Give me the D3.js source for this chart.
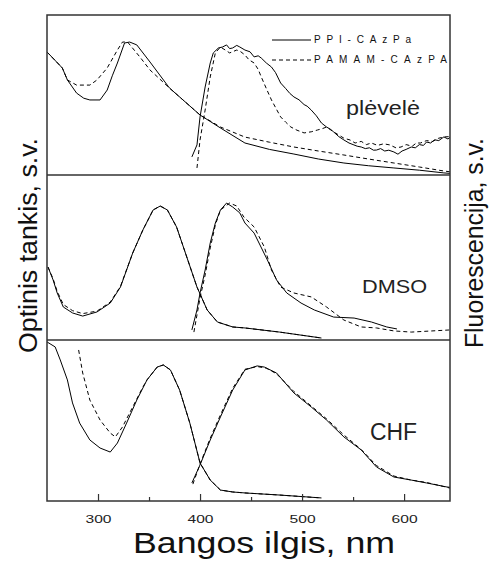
<!DOCTYPE html>
<html><head><meta charset="utf-8">
<script src="https://cdn.jsdelivr.net/npm/d3@7/dist/d3.min.js"></script>
<style>
html,body{margin:0;padding:0;background:#fff;}
svg{display:block;font-family:"Liberation Sans",Arial,sans-serif;}
</style></head>
<body>
<svg id="chart" width="489" height="564"></svg>
<script>
// ---- data (wavelength nm, arbitrary units) ----
const xTicks = [300, 400, 500, 600];
const xMinorTicks = [350, 450, 550];
const panelLabels = ["plėvelė", "DMSO", "CHF"];
const seriesNames = ["PPI-CAzPa", "PAMAM-CAzPA"];

// Panel 1: plėvelė (film)
const filmAbsPPI = [[250,0.769],[265,0.669],[270,0.594],[279,0.512],[286,0.48],[292,0.469],[302,0.469],[309,0.531],[314,0.62],[319,0.70],[326,0.825],[331,0.831],[338,0.813],[351,0.706],[370,0.544],[400,0.375],[420,0.294],[444,0.20],[468,0.16],[492,0.131],[516,0.10],[541,0.075],[565,0.058],[590,0.044],[615,0.03],[639,0.013],[645,0.01]];
const filmAbsPAMAM = [[250,0.769],[265,0.669],[270,0.594],[279,0.562],[292,0.562],[299,0.594],[309,0.669],[319,0.781],[324,0.831],[329,0.831],[341,0.738],[351,0.656],[370,0.544],[400,0.375],[420,0.30],[444,0.237],[468,0.205],[492,0.175],[516,0.15],[541,0.125],[565,0.10],[590,0.075],[615,0.05],[639,0.025],[645,0.02]];
const filmFlPPI = [[392,0.113],[397,0.188],[400,0.363],[405,0.55],[410,0.70],[413,0.763],[418,0.794],[422,0.80],[426,0.813],[429,0.79],[432,0.794],[436,0.81],[439,0.80],[444,0.781],[449,0.77],[453,0.738],[457,0.745],[460,0.731],[465,0.70],[470,0.675],[474,0.64],[479,0.575],[484,0.54],[488,0.51],[492,0.488],[497,0.47],[502,0.44],[505,0.43],[509,0.406],[514,0.37],[519,0.325],[524,0.30],[528,0.285],[531,0.269],[536,0.24],[541,0.219],[546,0.20],[550,0.19],[554,0.18],[558,0.175],[562,0.165],[566,0.17],[570,0.155],[573,0.156],[577,0.165],[581,0.15],[585,0.155],[590,0.144],[594,0.13],[598,0.15],[602,0.16],[607,0.175],[611,0.17],[615,0.19],[619,0.185],[622,0.206],[626,0.20],[630,0.22],[634,0.215],[639,0.238],[643,0.225],[645,0.235]];
const filmFlPAMAM = [[397,0.044],[400,0.219],[405,0.406],[410,0.613],[415,0.763],[420,0.80],[425,0.78],[429,0.763],[436,0.781],[440,0.77],[444,0.75],[448,0.72],[453,0.70],[457,0.66],[460,0.613],[465,0.54],[470,0.469],[475,0.41],[479,0.363],[484,0.33],[489,0.30],[495,0.28],[502,0.263],[509,0.27],[515,0.281],[520,0.29],[524,0.30],[531,0.269],[536,0.25],[541,0.23],[547,0.219],[552,0.20],[558,0.21],[563,0.19],[568,0.20],[574,0.185],[580,0.195],[586,0.188],[592,0.17],[597,0.175],[602,0.19],[608,0.18],[612,0.20],[616,0.20],[622,0.215],[628,0.21],[634,0.23],[639,0.238],[645,0.24]];

// Panel 2: DMSO
const dmsoAbsPPI = [[251,0.442],[256,0.364],[260,0.285],[266,0.20],[275,0.164],[285,0.145],[299,0.17],[312,0.224],[322,0.321],[334,0.527],[344,0.667],[354,0.788],[361,0.812],[368,0.788],[377,0.685],[387,0.503],[397,0.321],[407,0.182],[417,0.109],[432,0.079],[444,0.073],[478,0.048],[519,0.012]];
const dmsoAbsPAMAM = [[251,0.442],[256,0.37],[260,0.295],[266,0.215],[275,0.178],[285,0.16],[299,0.175],[312,0.23],[322,0.325],[334,0.527],[344,0.667],[354,0.788],[361,0.812],[368,0.788],[377,0.685],[387,0.503],[397,0.321],[407,0.182],[417,0.109],[432,0.079],[444,0.073],[478,0.048],[519,0.012]];
const dmsoFlPPI = [[392,0.061],[397,0.182],[400,0.285],[405,0.424],[410,0.588],[415,0.709],[420,0.788],[426,0.83],[432,0.806],[439,0.77],[444,0.709],[453,0.648],[466,0.485],[475,0.364],[485,0.285],[499,0.224],[512,0.182],[531,0.139],[551,0.133],[568,0.109],[583,0.079],[593,0.067]];
const dmsoFlPAMAM = [[394,0.048],[397,0.152],[400,0.255],[405,0.394],[410,0.558],[415,0.697],[420,0.788],[429,0.83],[436,0.812],[443,0.745],[453,0.685],[463,0.564],[470,0.424],[479,0.321],[492,0.285],[509,0.261],[524,0.20],[541,0.121],[558,0.079],[573,0.073],[590,0.055],[607,0.048],[645,0.061]];

// Panel 3: CHF
const chfAbsPPI = [[250,0.988],[258,0.957],[263,0.876],[270,0.752],[275,0.609],[282,0.484],[292,0.379],[302,0.329],[312,0.304],[319,0.36],[328,0.484],[338,0.627],[348,0.752],[358,0.832],[364,0.845],[371,0.814],[380,0.689],[390,0.484],[400,0.236],[410,0.13],[420,0.068],[432,0.056],[444,0.05],[478,0.037],[519,0.019]];
const chfAbsPAMAM = [[281,0.938],[285,0.795],[292,0.627],[302,0.503],[312,0.422],[317,0.398],[324,0.46],[334,0.584],[344,0.708],[348,0.752],[358,0.832],[364,0.845],[371,0.814],[380,0.689],[390,0.484],[400,0.236],[410,0.13],[420,0.068],[432,0.056],[444,0.05],[478,0.037],[519,0.019]];
const chfFlPPI = [[392,0.112],[400,0.224],[410,0.379],[420,0.522],[432,0.689],[444,0.814],[456,0.839],[463,0.832],[475,0.795],[492,0.671],[509,0.584],[524,0.503],[541,0.398],[558,0.317],[573,0.211],[590,0.149],[607,0.13],[622,0.112],[642,0.087],[645,0.085]];
const chfFlPAMAM = [[393,0.105],[400,0.23],[410,0.39],[420,0.535],[432,0.70],[444,0.818],[456,0.835],[465,0.825],[475,0.79],[492,0.68],[509,0.59],[524,0.51],[541,0.41],[558,0.32],[573,0.22],[590,0.155],[607,0.13],[622,0.115],[642,0.085],[645,0.08]];

const panelSeries = [
  [filmAbsPPI, filmAbsPAMAM, filmFlPPI, filmFlPAMAM],
  [dmsoAbsPPI, dmsoAbsPAMAM, dmsoFlPPI, dmsoFlPAMAM],
  [chfAbsPPI, chfAbsPAMAM, chfFlPPI, chfFlPAMAM]
];

// ---- layout ----
const svg = d3.select("#chart");
const left = 47, right = 450;
const panelBounds = [[15,175],[175,340],[340,501]];
const x = d3.scaleLinear().domain([250, 645]).range([left, right]);
const line = (ys) => d3.line().x(d => x(d[0])).y(d => ys(d[1])).curve(d3.curveLinear);

panelSeries.forEach((series, i) => {
  const [top, bottom] = panelBounds[i];
  const y = d3.scaleLinear().domain([0, 1]).range([bottom, top]);
  const g = svg.append("g");
  series.forEach((s, j) => {
    g.append("path").datum(s)
      .attr("d", line(y))
      .attr("fill", "none")
      .attr("stroke", "#000")
      .attr("stroke-width", 1)
      .attr("stroke-dasharray", j % 2 === 1 ? "4,3" : null);
  });
});

// frame and panel dividers
svg.append("rect").attr("x", left).attr("y", 15).attr("width", right - left).attr("height", 501 - 15)
  .attr("fill", "none").attr("stroke", "#333").attr("stroke-width", 1.5);
[175, 340].forEach(yy => svg.append("line").attr("x1", left).attr("x2", right).attr("y1", yy).attr("y2", yy)
  .attr("stroke", "#333").attr("stroke-width", 1.5));

// bottom axis with inward ticks
const axisG = svg.append("g").attr("transform", "translate(0,501)");
axisG.call(d3.axisBottom(x).tickValues(xTicks).tickSize(-7).tickFormat(d3.format("d")).tickPadding(16))
  .call(g => g.select(".domain").remove())
  .call(g => g.selectAll(".tick line").attr("stroke", "#333").attr("stroke-width", 1.2))
  .call(g => g.selectAll(".tick text").attr("fill", "#222").attr("font-size", 11)
     .attr("font-family", "Liberation Sans, Arial, sans-serif").attr("dy", 0).attr("y", 22)
     .attr("textLength", 26).attr("lengthAdjust", "spacingAndGlyphs"));
svg.append("g").attr("transform", "translate(0,501)")
  .call(d3.axisBottom(x).tickValues(xMinorTicks).tickSize(-4).tickFormat(""))
  .call(g => g.select(".domain").remove())
  .call(g => g.selectAll(".tick line").attr("stroke", "#333").attr("stroke-width", 1.2));

// axis titles
svg.append("text").attr("x", 264).attr("y", 553).attr("text-anchor", "middle")
  .attr("font-size", 29).attr("textLength", 262).attr("lengthAdjust", "spacingAndGlyphs")
  .attr("fill", "#111").text("Bangos ilgis, nm");
svg.append("text").attr("transform", "translate(37,245.5) rotate(-90)").attr("text-anchor", "middle")
  .attr("font-size", 26).attr("textLength", 215).attr("lengthAdjust", "spacingAndGlyphs")
  .attr("fill", "#111").text("Optinis tankis, s.v.");
svg.append("text").attr("transform", "translate(483,243) rotate(-90)").attr("text-anchor", "middle")
  .attr("font-size", 25).attr("textLength", 210).attr("lengthAdjust", "spacingAndGlyphs")
  .attr("fill", "#111").text("Fluorescencija, s.v.");

// panel labels
const panelLabelPos = [[346,115,20,74],[362,293,18,65],[370,440,23,47]];
panelLabels.forEach((t, i) => {
  const [px, py, fs, tl] = panelLabelPos[i];
  svg.append("text").attr("x", px).attr("y", py).attr("font-size", fs)
    .attr("textLength", tl).attr("lengthAdjust", "spacingAndGlyphs")
    .attr("fill", "#222").text(t);
});

// legend
const legendPos = [[40,43,97],[60,63,133]];
seriesNames.forEach((name, i) => {
  const [ly, ty, tl] = legendPos[i];
  svg.append("line").attr("x1", 272).attr("x2", 311).attr("y1", ly).attr("y2", ly)
    .attr("stroke", "#000").attr("stroke-width", 1).attr("stroke-dasharray", i === 1 ? "4,3" : null);
  svg.append("text").attr("x", 314).attr("y", ty).attr("font-size", 10)
    .attr("textLength", tl).attr("lengthAdjust", "spacing").attr("fill", "#111").text(name);
});
</script>
</body></html>
